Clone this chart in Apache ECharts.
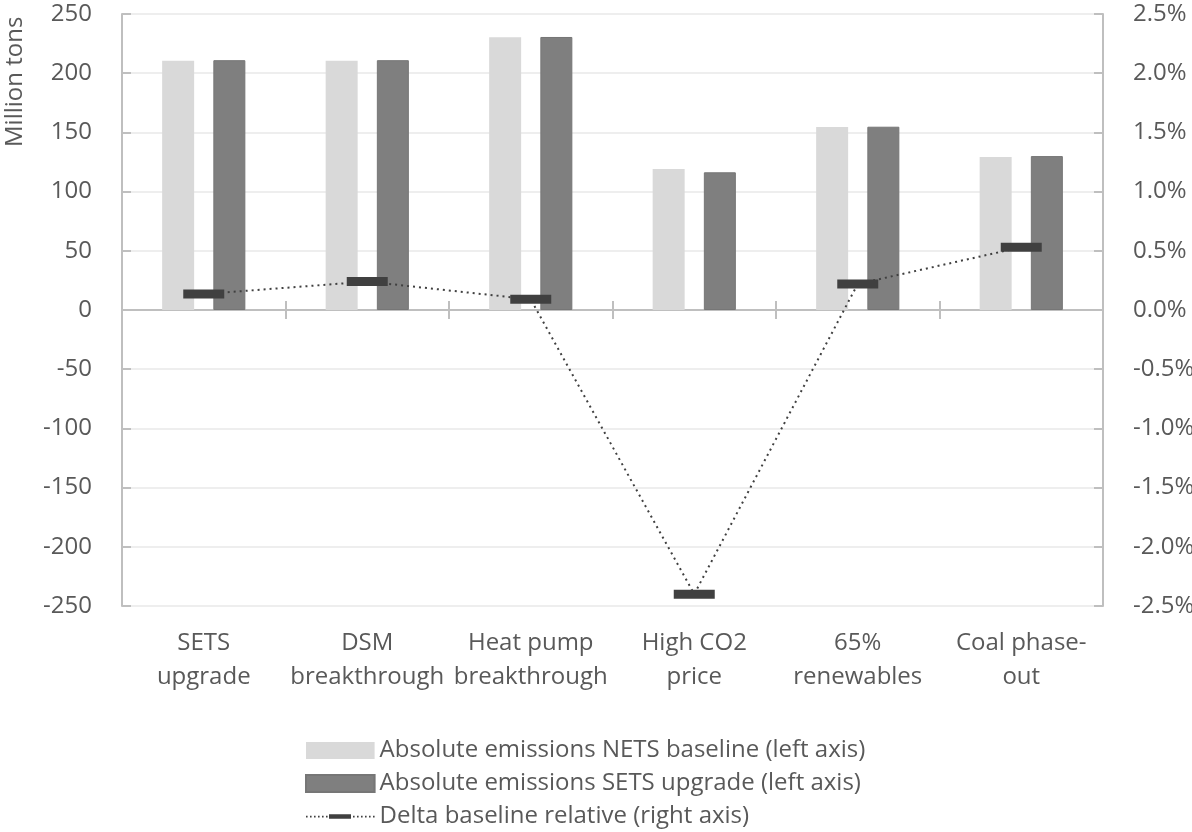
<!DOCTYPE html>
<html><head><meta charset="utf-8">
<script src="https://cdn.jsdelivr.net/npm/echarts@6/dist/echarts.min.js"></script>
<style>html,body{margin:0;padding:0;background:#fff}#c{width:1192px;height:832px}</style>
</head><body><div id="c"></div>
<script>
const categories = ["SETS\nupgrade","DSM\nbreakthrough","Heat pump\nbreakthrough","High CO2\nprice","65%\nrenewables","Coal phase-\nout"];
const netsBaseline = [210.5, 210.5, 230.3, 119, 154.5, 129.2];
const setsUpgrade = [211, 211, 230.6, 116.3, 154.8, 130];
const deltaRelative = [0.135, 0.24, 0.09, -2.40, 0.22, 0.53];
const leftTicks = {min:-250, max:250, interval:50};
const rightTicks = {min:-2.5, max:2.5, interval:0.5};
const seriesNames = ["Absolute emissions NETS baseline (left axis)","Absolute emissions SETS upgrade (left axis)","Delta baseline relative (right axis)"];
const yAxisTitle = "Million tons";

const FONT = "Open Sans";
const FS = 24;
const TXT = "#595959";
const AX = "#bfbfbf";

// legend key for the line series: dotted line with a short bar in the middle
let keyPath = "path://";
[0,4,8,12,16,20].forEach(x=>{ keyPath += `M${x},1.6h1.6v1.6h-1.6z `; });
keyPath += "M23,0h22v4.6h-22z ";
[47,51,55,59,63,67].forEach(x=>{ keyPath += `M${x},1.6h1.6v1.6h-1.6z `; });

const chart = echarts.init(document.getElementById('c'), null, {renderer:'canvas'});
chart.setOption({
  animation:false,
  grid:{left:122,right:89,top:14,bottom:226, containLabel:false, outerBoundsMode:'none'},
  textStyle:{fontFamily:FONT},
  legend:{
    orient:'vertical', left:305, top:737, padding:0, itemWidth:68.6, itemHeight:17, itemGap:6,
    textStyle:{fontFamily:FONT, fontSize:FS, color:TXT, lineHeight:27},
    data:[{name:seriesNames[0], icon:'rect'},{name:seriesNames[1], icon:'rect'},{name:seriesNames[2], icon:keyPath}]
  },
  graphic:[{type:'text', x:15, y:147, rotation:Math.PI/2,
    style:{text:yAxisTitle, fill:TXT, font:FS+"px 'Open Sans'", textAlign:'left', textVerticalAlign:'middle'}}],
  xAxis:[
    {type:'category', data:categories, position:'bottom', axisLine:{show:false,onZero:false}, axisTick:{show:false},
     axisLabel:{fontFamily:FONT, fontSize:FS, color:TXT, lineHeight:34, margin:20, interval:0}},
    {type:'category', data:categories, position:'bottom', axisLine:{onZero:true, onZeroAxisIndex:0, lineStyle:{color:AX,width:2}},
     axisTick:{show:true, length:9, lineStyle:{color:AX,width:2}}, axisLabel:{show:false}},
    {type:'category', data:categories, position:'bottom', axisLine:{onZero:true, onZeroAxisIndex:0, lineStyle:{color:AX,width:2}},
     axisTick:{show:true, inside:true, length:9, lineStyle:{color:AX,width:2}}, axisLabel:{show:false}}
  ],
  yAxis:[
    {type:'value', min:leftTicks.min, max:leftTicks.max, interval:leftTicks.interval, position:'left',
     axisLine:{show:true, lineStyle:{color:AX,width:2}}, axisTick:{show:true, inside:true, length:9, lineStyle:{color:AX,width:2}},
     splitLine:{show:true, lineStyle:{color:'#eeeeee', width:2}},
     axisLabel:{fontFamily:FONT, fontSize:FS, color:TXT, margin:30}},
    {type:'value', min:rightTicks.min, max:rightTicks.max, interval:rightTicks.interval, position:'right',
     axisLine:{show:true, lineStyle:{color:AX,width:2}}, axisTick:{show:true, inside:true, length:9, lineStyle:{color:AX,width:2}},
     splitLine:{show:false},
     axisLabel:{fontFamily:FONT, fontSize:FS, color:TXT, margin:30, formatter:v=>v.toFixed(1)+'%'}}
  ],
  series:[
    {name:seriesNames[0], type:'bar', xAxisIndex:0, yAxisIndex:0, data:netsBaseline, barWidth:32, barGap:'60%',
     itemStyle:{color:'#d9d9d9'}},
    {name:seriesNames[1], type:'bar', xAxisIndex:0, yAxisIndex:0, data:setsUpgrade, barWidth:32, barGap:'60%',
     itemStyle:{color:'#7f7f7f', borderColor:'#767676', borderWidth:1}},
    {name:seriesNames[2], type:'line', xAxisIndex:0, yAxisIndex:1, data:deltaRelative, z:5,
     symbol:'rect', symbolSize:[41,9], showSymbol:true, itemStyle:{color:'#404040'},
     lineStyle:{color:'#404040', width:2, type:[2,4]}}
  ]
});
</script></body></html>
